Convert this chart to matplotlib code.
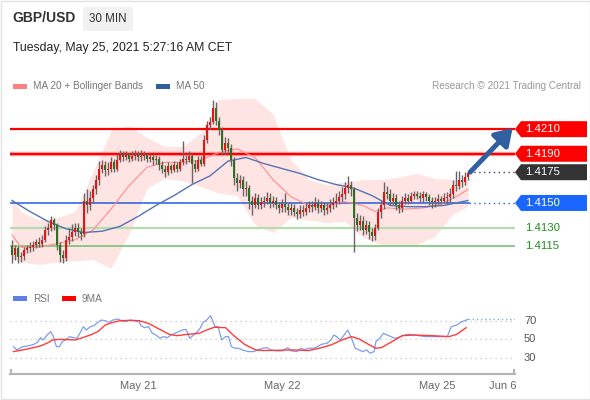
import matplotlib
matplotlib.use("Agg")
import matplotlib.pyplot as plt
import numpy as np
from matplotlib.patches import Rectangle, Polygon, FancyBboxPatch
from matplotlib.transforms import blended_transform_factory

# ---- data (GBP/USD, 30 min candles) ----
first_open = 1.4115
closes = [
    1.4108, 1.4113, 1.4106, 1.4107, 1.4112, 1.4113, 1.4114, 1.4116, 1.4118, 1.4117,
    1.4120, 1.4128, 1.4130, 1.4136, 1.4132, 1.4116, 1.4108, 1.4105, 1.4120, 1.4122,
    1.4126, 1.4130, 1.4126, 1.4125, 1.4152, 1.4148, 1.4154, 1.4161, 1.4169, 1.4178,
    1.4181, 1.4177, 1.4178, 1.4183, 1.4178, 1.4185, 1.4189, 1.4187, 1.4189, 1.4186,
    1.4188, 1.4189, 1.4187, 1.4188, 1.4189, 1.4186, 1.4187, 1.4185, 1.4186, 1.4181,
    1.4178, 1.4175, 1.4180, 1.4177, 1.4181, 1.4178, 1.4183, 1.4186, 1.4185, 1.4188,
    1.4182, 1.4178, 1.4185, 1.4182, 1.4201, 1.4213, 1.4216, 1.4227, 1.4217, 1.4209,
    1.4193, 1.4199, 1.4195, 1.4185, 1.4170, 1.4166, 1.4169, 1.4161, 1.4162, 1.4152,
    1.4148, 1.4154, 1.4148, 1.4151, 1.4152, 1.4154, 1.4150, 1.4152, 1.4148, 1.4146,
    1.4149, 1.4147, 1.4144, 1.4146, 1.4143, 1.4141, 1.4144, 1.4143, 1.4146, 1.4148,
    1.4147, 1.4150, 1.4146, 1.4148, 1.4144, 1.4146, 1.4148, 1.4150, 1.4152, 1.4155,
    1.4157, 1.4162, 1.4165, 1.4161, 1.4138, 1.4132, 1.4135, 1.4128, 1.4132, 1.4126,
    1.4123, 1.4130, 1.4143, 1.4148, 1.4159, 1.4157, 1.4152, 1.4154, 1.4148, 1.4146,
    1.4152, 1.4154, 1.4152, 1.4156, 1.4157, 1.4156, 1.4154, 1.4157, 1.4155, 1.4152,
    1.4151, 1.4152, 1.4153, 1.4152, 1.4154, 1.4155, 1.4157, 1.4165, 1.4164, 1.4169,
    1.4167, 1.4171, 1.4174,
]
highs = [
    1.4120, 1.4116, 1.4115, 1.4110, 1.4114, 1.4116, 1.4118, 1.4119, 1.4121, 1.4122,
    1.4124, 1.4131, 1.4134, 1.4139, 1.4138, 1.4134, 1.4118, 1.4112, 1.4124, 1.4130,
    1.4133, 1.4134, 1.4134, 1.4130, 1.4158, 1.4161, 1.4160, 1.4165, 1.4173, 1.4184,
    1.4185, 1.4184, 1.4183, 1.4187, 1.4186, 1.4190, 1.4193, 1.4192, 1.4192, 1.4191,
    1.4192, 1.4193, 1.4192, 1.4193, 1.4192, 1.4191, 1.4190, 1.4190, 1.4189, 1.4188,
    1.4184, 1.4181, 1.4183, 1.4182, 1.4184, 1.4183, 1.4186, 1.4200, 1.4189, 1.4192,
    1.4190, 1.4185, 1.4188, 1.4188, 1.4205, 1.4217, 1.4220, 1.4234, 1.4232, 1.4220,
    1.4212, 1.4204, 1.4203, 1.4198, 1.4187, 1.4174, 1.4173, 1.4172, 1.4168, 1.4165,
    1.4156, 1.4158, 1.4157, 1.4155, 1.4156, 1.4159, 1.4158, 1.4156, 1.4155, 1.4151,
    1.4153, 1.4158, 1.4150, 1.4150, 1.4149, 1.4146, 1.4148, 1.4148, 1.4150, 1.4152,
    1.4152, 1.4155, 1.4153, 1.4152, 1.4151, 1.4150, 1.4153, 1.4155, 1.4158, 1.4160,
    1.4163, 1.4167, 1.4172, 1.4168, 1.4163, 1.4142, 1.4140, 1.4139, 1.4136, 1.4135,
    1.4130, 1.4133, 1.4146, 1.4152, 1.4167, 1.4164, 1.4161, 1.4158, 1.4157, 1.4152,
    1.4156, 1.4158, 1.4157, 1.4159, 1.4160, 1.4160, 1.4159, 1.4160, 1.4159, 1.4157,
    1.4155, 1.4155, 1.4157, 1.4156, 1.4158, 1.4159, 1.4162, 1.4169, 1.4176, 1.4176,
    1.4173, 1.4175, 1.4176,
]
lows = [
    1.4101, 1.4104, 1.4101, 1.4102, 1.4104, 1.4109, 1.4110, 1.4111, 1.4113, 1.4114,
    1.4114, 1.4118, 1.4124, 1.4127, 1.4128, 1.4112, 1.4102, 1.4101, 1.4103, 1.4117,
    1.4119, 1.4123, 1.4122, 1.4120, 1.4122, 1.4142, 1.4144, 1.4150, 1.4157, 1.4165,
    1.4174, 1.4172, 1.4173, 1.4175, 1.4175, 1.4176, 1.4183, 1.4184, 1.4185, 1.4183,
    1.4184, 1.4185, 1.4184, 1.4184, 1.4185, 1.4183, 1.4183, 1.4181, 1.4182, 1.4177,
    1.4174, 1.4171, 1.4173, 1.4174, 1.4175, 1.4175, 1.4176, 1.4181, 1.4182, 1.4183,
    1.4166, 1.4175, 1.4176, 1.4180, 1.4180, 1.4199, 1.4210, 1.4214, 1.4213, 1.4205,
    1.4189, 1.4190, 1.4191, 1.4180, 1.4165, 1.4160, 1.4162, 1.4156, 1.4156, 1.4145,
    1.4140, 1.4146, 1.4145, 1.4145, 1.4147, 1.4149, 1.4146, 1.4147, 1.4145, 1.4142,
    1.4143, 1.4143, 1.4140, 1.4140, 1.4139, 1.4137, 1.4138, 1.4139, 1.4140, 1.4143,
    1.4143, 1.4144, 1.4142, 1.4143, 1.4140, 1.4141, 1.4143, 1.4145, 1.4147, 1.4149,
    1.4151, 1.4153, 1.4158, 1.4156, 1.4110, 1.4127, 1.4128, 1.4124, 1.4125, 1.4121,
    1.4119, 1.4120, 1.4128, 1.4138, 1.4145, 1.4153, 1.4148, 1.4148, 1.4144, 1.4142,
    1.4143, 1.4149, 1.4149, 1.4150, 1.4153, 1.4153, 1.4151, 1.4151, 1.4152, 1.4148,
    1.4146, 1.4147, 1.4149, 1.4149, 1.4150, 1.4150, 1.4151, 1.4154, 1.4160, 1.4161,
    1.4163, 1.4165, 1.4169,
]

# moving averages, read at candle positions
ma20_idx = [0, 3, 9, 15, 21, 27, 33, 39, 45, 51, 57, 63, 69, 75, 81, 87, 93, 99,
            105, 111, 117, 121, 125, 131, 137, 143, 148, 152]
ma20 = [1.4124, 1.4114, 1.4114, 1.4117, 1.4120, 1.4128, 1.4145, 1.4164, 1.4179,
        1.4183, 1.4183, 1.4185, 1.4191, 1.4194, 1.4187, 1.4169, 1.4155, 1.4148,
        1.4148, 1.4151, 1.4148, 1.4143, 1.4146, 1.4145, 1.4146, 1.4149, 1.4155, 1.4161]
ma50_idx = [0, 6, 12, 18, 24, 30, 36, 42, 48, 54, 60, 66, 72, 78, 84, 90, 96, 102,
            108, 114, 120, 126, 132, 138, 144, 152]
ma50 = [1.4152, 1.4143, 1.4135, 1.4129, 1.4126, 1.4127, 1.4131, 1.4139, 1.4148,
        1.4156, 1.4165, 1.4172, 1.4184, 1.4187, 1.4182, 1.4178, 1.4174, 1.4169,
        1.4165, 1.4162, 1.4156, 1.4148, 1.4147, 1.4147, 1.4148, 1.4152]
band_idx = [0, 3, 9, 15, 21, 27, 33, 39, 45, 51, 57, 63, 69, 75, 81, 87, 93, 99,
            105, 111, 117, 123, 129, 135, 141, 147, 152]
band_upper = [1.4154, 1.4143, 1.4136, 1.4138, 1.4143, 1.4175, 1.4209, 1.4213, 1.4203,
              1.4196, 1.4196, 1.4207, 1.4234, 1.4235, 1.4235, 1.4222, 1.4185, 1.4169,
              1.4165, 1.4167, 1.4169, 1.4169, 1.4171, 1.4174, 1.4170, 1.4169, 1.4169]
band_lower = [1.4105, 1.4102, 1.4100, 1.4102, 1.4103, 1.4104, 1.4097, 1.4124, 1.4162,
              1.4170, 1.4168, 1.4163, 1.4158, 1.4156, 1.4132, 1.4126, 1.4138, 1.4136,
              1.4134, 1.4135, 1.4122, 1.4116, 1.4116, 1.4116, 1.4123, 1.4141, 1.4147]

# RSI panel
rsi_idx = [0.5, 1.6, 3.5, 5.4, 7.3, 8.5, 9.5, 10.4, 11.7, 12.9,
           13.8, 14.8, 15.8, 16.7, 17.9, 19.2, 20.4, 21.7, 22.9, 23.8,
           24.8, 26.1, 27.3, 28.6, 29.8, 31.1, 32.3, 33.6, 35.5, 36.7,
           38.0, 39.2, 41.1, 42.4, 43.0, 44.2, 45.5, 46.8, 48.0, 49.3,
           50.5, 51.8, 53.0, 54.3, 55.5, 56.8, 58.0, 59.3, 60.5, 61.8,
           62.7, 63.7, 64.9, 66.2, 66.8, 67.7, 68.7, 69.9, 71.2, 72.2,
           73.1, 74.3, 75.6, 76.8, 78.7, 80.6, 81.8, 83.7, 85.0, 86.2,
           88.1, 90.0, 91.9, 93.1, 95.0, 96.3, 97.5, 98.8, 100.6, 101.9,
           103.1, 105.0, 106.3, 107.3, 108.2, 109.4, 110.7, 111.9, 113.2, 114.4,
           115.7, 116.9, 118.2, 119.4, 120.7, 121.3, 122.6, 123.8, 125.1, 126.3,
           127.6, 128.8, 130.1, 132.0, 133.8, 135.7, 137.6, 139.5, 141.4, 143.2,
           145.1, 146.4, 148.3, 149.5, 151.4, 152.0]
rsi = [42.1, 38.6, 42.1, 42.9, 44.6, 46.8, 51.8, 49.3, 54.6, 58.2,
       52.9, 42.1, 42.1, 47.5, 49.3, 52.9, 51.8, 51.1, 58.2, 63.6,
       60.0, 63.6, 64.6, 68.2, 70.7, 70.0, 68.2, 70.7, 71.8, 69.6,
       68.9, 70.7, 69.6, 68.9, 64.6, 62.5, 63.6, 56.4, 54.6, 51.1,
       52.9, 51.8, 54.6, 56.4, 58.2, 60.0, 60.7, 51.1, 54.6, 58.2,
       61.8, 68.2, 70.7, 75.4, 70.7, 63.6, 63.6, 49.3, 52.9, 52.9,
       42.1, 40.4, 40.4, 38.6, 36.8, 36.8, 38.6, 40.4, 41.1, 38.6,
       37.5, 37.5, 41.1, 37.5, 36.8, 40.4, 38.6, 40.4, 40.4, 42.1,
       44.6, 45.7, 49.3, 54.6, 52.9, 49.3, 54.6, 60.0, 51.1, 40.4,
       38.6, 36.8, 38.6, 35.0, 36.8, 47.5, 51.1, 56.4, 54.6, 52.9,
       51.1, 51.8, 53.9, 55.4, 54.6, 53.9, 52.9, 52.9, 52.9, 52.9,
       52.9, 63.6, 65.4, 68.2, 70.7, 71.4]
ma9_idx = [0.5, 3.5, 7.3, 9.8, 12.3, 13.5, 16.1, 21.1, 22.9, 26.1,
           28.6, 31.1, 33.6, 36.1, 39.9, 42.4, 45.5, 48.6, 52.4, 54.9,
           58.7, 62.4, 64.9, 67.4, 71.2, 73.7, 77.5, 81.2, 83.7, 88.7,
           93.7, 98.8, 102.5, 106.3, 110.0, 113.2, 115.7, 118.8, 121.3, 123.2,
           126.3, 130.1, 133.8, 140.1, 145.7, 148.3, 151.4]
ma9 = [36.8, 38.6, 41.1, 43.2, 46.8, 49.3, 50.0, 49.3, 51.1, 54.6,
       58.2, 65.4, 68.2, 70.0, 70.4, 70.0, 67.1, 61.8, 55.4, 53.9,
       55.4, 56.4, 60.0, 62.9, 62.5, 54.6, 44.6, 38.6, 37.9, 38.2,
       38.6, 37.9, 40.4, 43.9, 49.3, 52.9, 50.4, 44.6, 40.4, 41.1,
       46.8, 53.9, 54.6, 53.9, 52.9, 55.4, 62.5]
rsi_levels = [30, 50, 70]

# key levels on the right
resistances = [1.4210, 1.4190]
last_level = 1.4175
pivot = 1.4150
supports = [1.4130, 1.4115]

tick_pos = [42, 90, 141.7, 163.7]
tick_labels = ["May 21", "May 22", "May 25", "Jun 6"]

# ---- layout helpers (pixel positions of the 590x400 canvas) ----
W, H = 590, 400


def fx(x):
    return x / W


def fy(y):
    return 1 - y / H


plt.rcParams["font.family"] = ["Liberation Sans", "DejaVu Sans"]
fig = plt.figure(figsize=(W / 100, H / 100), dpi=100)
fig.patch.set_facecolor("white")

XMIN, XMAX = -0.667, 167.67
ax = fig.add_axes([fx(10), fy(270), fx(515) - fx(10), fy(93) - fy(270)])
ax.set_xlim(XMIN, XMAX)
ax.set_ylim(1.40955, 1.42394)
ax.axis("off")

# bollinger band + averages
ax.fill_between(band_idx, band_lower, band_upper, color="#ffe4e4", lw=0, zorder=1)
ax.plot(ma20_idx, ma20, color="#ff8c8c", lw=0.8, zorder=4)
ax.plot(ma50_idx, ma50, color="#5373b6", lw=1.0, zorder=4)

# level lines
n = len(closes)
ax.axhline(resistances[0], color="#ff0000", lw=1.6, zorder=2)
ax.axhline(resistances[1], color="#ffa0a0", lw=3.2, zorder=2)
ax.axhline(resistances[1], color="#ff0000", lw=1.5, zorder=2)
ax.plot([XMIN, n - 0.5], [pivot, pivot], color="#1f5fe0", lw=1.1, zorder=2)
ax.plot([n - 0.5, XMAX], [pivot, pivot], color="#1f5fe0", lw=1.0,
        ls=(0, (1, 2.5)), zorder=2)
ax.plot([n - 0.5, XMAX], [last_level, last_level], color="#444444", lw=1.0,
        ls=(0, (1, 2.5)), zorder=2)
ax.axhline(supports[0], color="#b4dcae", lw=1.6, zorder=2)
ax.axhline(supports[1], color="#6cbf6a", lw=1.1, zorder=2)

# candles
x = np.arange(n)
c = np.array(closes)
o = np.array([first_open] + closes[:-1])
hi = np.maximum(np.array(highs), np.maximum(o, c))
lo = np.minimum(np.array(lows), np.minimum(o, c))
up = c >= o
ax.vlines(x, lo, hi, color="#6f6262", lw=1.0, zorder=5)
body_lo = np.minimum(o, c)
body_h = np.maximum(np.abs(c - o), 0.00003)
ax.bar(x[up], body_h[up], bottom=body_lo[up], width=0.7, color="#e41414", lw=0, zorder=6)
ax.bar(x[~up], body_h[~up], bottom=body_lo[~up], width=0.7, color="#2f6f22", lw=0, zorder=6)

# projection arrow
ax.annotate("", xy=(XMAX - 0.8, resistances[0] + 0.0001), xytext=(n - 0.3, last_level),
            arrowprops=dict(arrowstyle="-|>,head_length=0.7,head_width=0.45",
                            color="#30609f", lw=3.6, mutation_scale=14,
                            shrinkA=0, shrinkB=0),
            annotation_clip=False, zorder=7)

# right side tags
ytr = blended_transform_factory(fig.transFigure, ax.transData)
px_price = (ax.get_ylim()[1] - ax.get_ylim()[0]) / 177.0


def tag(price, color, label):
    hh = 8 * px_price
    pts = [(fx(515), price), (fx(521), price + hh), (fx(587), price + hh),
           (fx(587), price - hh), (fx(521), price - hh)]
    ax.add_patch(Polygon(pts, closed=True, transform=ytr, facecolor=color,
                         edgecolor="none", clip_on=False, zorder=8))
    ax.text(fx(525), price, label, transform=ytr, color="white", fontsize=8.2,
            va="center", ha="left", zorder=9, clip_on=False)


tag(resistances[0], "#ff0000", f"{resistances[0]:.4f}")
tag(resistances[1], "#ff0000", f"{resistances[1]:.4f}")
tag(last_level, "#333333", f"{last_level:.4f}")
tag(pivot, "#1a66ff", f"{pivot:.4f}")
for s in supports:
    ax.text(fx(525), s, f"{s:.4f}", transform=ytr, color="#238a23", fontsize=8.2,
            va="center", ha="left", clip_on=False)

# ---- RSI panel ----
rx = fig.add_axes([fx(10), fy(374), fx(515) - fx(10), fy(310) - fy(374)])
rx.set_xlim(XMIN, XMAX)
rx.set_ylim(12.7, 81.5)
for side in ["top", "left", "right"]:
    rx.spines[side].set_visible(False)
rx.spines["bottom"].set_color("#b4b4b4")
rx.spines["bottom"].set_linewidth(1.5)
rx.set_yticks([])
rx.set_xticks(tick_pos)
rx.set_xticklabels(tick_labels)
rx.tick_params(axis="x", length=0, pad=5, labelsize=8, labelcolor="#666666")
for xe in (0.0015, 0.9985):
    rx.plot([xe, xe], [0, 0.07], transform=rx.transAxes, color="#b4b4b4",
            lw=1.5, clip_on=False)
for lv in rsi_levels:
    rx.axhline(lv, color="#c4c4c4", lw=0.9, ls=(0, (1, 3)))
rx.plot(rsi_idx, rsi, color="#7d9df0", lw=0.9)
rx.plot(ma9_idx, ma9, color="#ff3c3c", lw=1.0)
rx.plot([rsi_idx[-1], XMAX], [rsi[-1], rsi[-1]], color="#8fa8f2", lw=1.0,
        ls=(0, (1, 2)))
rtr = blended_transform_factory(fig.transFigure, rx.transData)
for lv in rsi_levels:
    rx.text(fx(524), lv, str(lv), transform=rtr, color="#555555", fontsize=8,
            va="center", ha="left", clip_on=False)

# ---- header & legends ----
fig.text(fx(12), fy(18.5), "GBP/USD", fontsize=10.0, weight="bold",
         color="#333333", va="center")
fig.add_artist(FancyBboxPatch((fx(83), fy(31)), fx(50), 24 / H,
                              boxstyle="round,pad=0,rounding_size=0.006",
                              transform=fig.transFigure, fc="#f1f1f1", ec="none"))
fig.text(fx(108), fy(19), "30 MIN", fontsize=8.4, color="#333333",
         ha="center", va="center")
fig.text(fx(13), fy(48), "Tuesday, May 25, 2021 5:27:16 AM CET", fontsize=8.8,
         color="#222222", va="center")


def legend_item(x0, y0, color, label):
    fig.add_artist(Rectangle((fx(x0), fy(y0 + 2.5)), fx(14), 5 / H, transform=fig.transFigure,
                             fc=color, ec="none"))
    fig.text(fx(x0 + 20), fy(y0), label, fontsize=7.2, color="#777777", va="center")


legend_item(13, 86, "#ff8080", "MA 20 + Bollinger Bands")
legend_item(156, 86, "#2f5f9f", "MA 50")
fig.text(fx(581), fy(86), "Research \u00a9 2021 Trading Central", fontsize=7.2,
         color="#999999", va="center", ha="right")
legend_item(13, 298.5, "#6080e8", "RSI")
legend_item(62, 298.5, "#ff0000", "9MA")

# outer frame
fig.add_artist(Rectangle((fx(0.5), fy(398.5)), fx(589), 398 / H, transform=fig.transFigure,
                         fill=False, ec="#e2e2e2", lw=1.0))

fig.savefig("out.png", dpi=100)
